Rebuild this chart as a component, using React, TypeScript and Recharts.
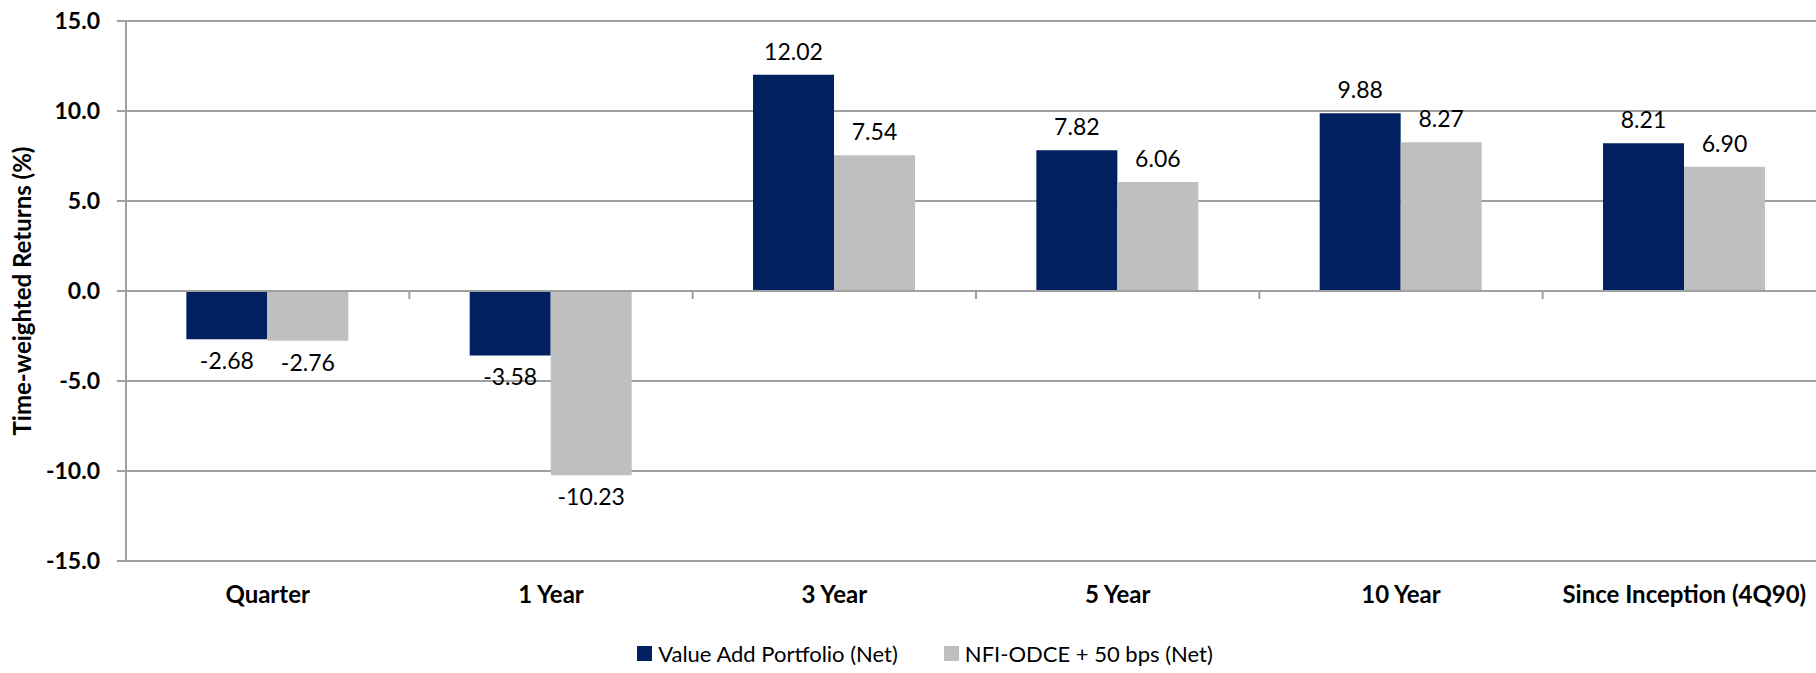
import React from "react";
import {
  Bar,
  BarChart,
  CartesianGrid,
  LabelList,
  Legend,
  ReferenceLine,
  XAxis,
  YAxis,
} from "recharts";

const periods = [
  "Quarter",
  "1 Year",
  "3 Year",
  "5 Year",
  "10 Year",
  "Since Inception (4Q90)",
];
const valueAddNet = [-2.68, -3.58, 12.02, 7.82, 9.88, 8.21];
const odceNet = [-2.76, -10.23, 7.54, 6.06, 8.27, 6.9];
const yTicks = [-15, -10, -5, 0, 5, 10, 15];
const valueAddName = "Value Add Portfolio (Net)";
const odceName = "NFI-ODCE + 50 bps (Net)";
const yTitle = "Time-weighted Returns (%)";
const seriesOrder = ["valueAdd", "odce"];

const chartData = periods.map((period, i) => ({
  period,
  valueAdd: valueAddNet[i],
  odce: odceNet[i],
}));

const FONT = "Lato, 'Open Sans', sans-serif";
const GRID = "#a0a0a0";

// value labels sit past the end of each bar (above positives, below negatives)
const renderValueLabel = (props: any) => {
  const { x, y, width, height, value } = props;
  const v = Number(value);
  const top = Math.min(y, y + height);
  const bottom = Math.max(y, y + height);
  const cy = v >= 0 ? top - 24 : bottom + 21;
  return (
    <text
      x={x + width / 2}
      y={cy}
      textAnchor="middle"
      dominantBaseline="central"
      fontFamily={FONT}
      fontSize={23}
      fill="#000"
    >
      {v.toFixed(2)}
    </text>
  );
};

// zero line doubles as the category axis, with ticks between categories
const ZeroAxis = (props: any) => {
  const { x1, x2, y1 } = props;
  const step = (x2 - x1) / periods.length;
  return (
    <g>
      <line x1={x1} x2={x2} y1={y1} y2={y1} stroke={GRID} strokeWidth={2} />
      {periods.map((p, i) => (
        <line
          key={p}
          x1={x1 + step * (i + 1)}
          x2={x1 + step * (i + 1)}
          y1={y1}
          y2={y1 + 8}
          stroke={GRID}
          strokeWidth={2}
        />
      ))}
    </g>
  );
};

const renderYTitle = (props: any) => {
  const { viewBox } = props;
  const cx = viewBox.x + 21;
  const cy = viewBox.y + viewBox.height / 2;
  return (
    <text
      x={cx}
      y={cy}
      transform={`rotate(-90 ${cx} ${cy})`}
      textAnchor="middle"
      dominantBaseline="central"
      fontFamily={FONT}
      fontSize={24}
      fontWeight={700}
      fill="#000"
    >
      {yTitle}
    </text>
  );
};

const renderLegend = (props: any) => {
  const { payload } = props;
  const items = [...(payload || [])].sort(
    (a: any, b: any) =>
      seriesOrder.indexOf(a.dataKey) - seriesOrder.indexOf(b.dataKey)
  );
  return (
    <div
      style={{
        display: "flex",
        justifyContent: "center",
        alignItems: "center",
        gap: 46,
        height: 40,
        fontFamily: FONT,
        fontSize: 22,
        color: "#000",
      }}
    >
      {items.map((entry: any) => (
        <span
          key={entry.value}
          style={{ display: "flex", alignItems: "center", whiteSpace: "nowrap" }}
        >
          <span
            style={{
              display: "inline-block",
              width: 15,
              height: 15,
              background: entry.color,
              marginRight: 6,
            }}
          />
          {entry.value}
        </span>
      ))}
    </div>
  );
};

export default function App() {
  return (
    <div
      style={{
        width: 1816,
        height: 673,
        overflow: "hidden",
        position: "relative",
        background: "#fff",
      }}
    >
      <style>{"body{margin:0;}"}</style>
      <BarChart
        width={1830}
        height={673}
        data={chartData}
        margin={{ top: 21, right: 4, bottom: 0, left: 0 }}
        barCategoryGap="21.3%"
        barGap={0}
      >
        <CartesianGrid horizontal vertical={false} stroke={GRID} strokeWidth={2} />
        <XAxis
          dataKey="period"
          interval={0}
          axisLine={false}
          tickLine={false}
          tickSize={0}
          tickMargin={25}
          height={72}
          tick={{ fontFamily: FONT, fontSize: 24, fontWeight: 700, fill: "#000" }}
        />
        <YAxis
          width={126}
          domain={[-15, 15]}
          ticks={yTicks}
          interval={0}
          allowDataOverflow
          tickFormatter={(v: number) => v.toFixed(1)}
          axisLine={{ stroke: GRID, strokeWidth: 2 }}
          tickLine={{ stroke: GRID, strokeWidth: 2 }}
          tickSize={9}
          tickMargin={17}
          tick={{ fontFamily: FONT, fontSize: 23, fontWeight: 700, fill: "#000" }}
          label={renderYTitle}
        />
        <ReferenceLine y={0} shape={ZeroAxis} />
        <Legend
          verticalAlign="bottom"
          content={renderLegend}
          wrapperStyle={{ left: 0, width: 1850 }}
        />
        <Bar dataKey="valueAdd" name={valueAddName} fill="#002060" isAnimationActive={false}>
          <LabelList dataKey="valueAdd" content={renderValueLabel} />
        </Bar>
        <Bar dataKey="odce" name={odceName} fill="#bfbfbf" isAnimationActive={false}>
          <LabelList dataKey="odce" content={renderValueLabel} />
        </Bar>
      </BarChart>
    </div>
  );
}
